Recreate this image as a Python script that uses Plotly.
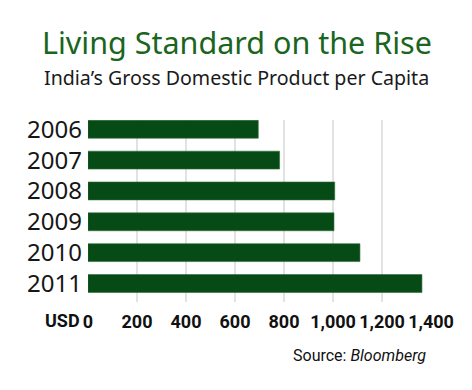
import plotly.graph_objects as go

years = ["2006", "2007", "2008", "2009", "2010", "2011"]
gdp_per_capita = [695, 782, 1007, 1004, 1110, 1363]
x_tick_vals = [0, 200, 400, 600, 800, 1000, 1200, 1400]
x_tick_text = ["0", "200", "400", "600", "800", "1,000", "1,200", "1,400"]

W, H = 472, 390
L, R, T, B = 88, 41, 120, 88  # plot area 88..431 x, 120..302 y
pw, ph = W - L - R, H - T - B

def px_x(x):
    return (x - L) / pw

def px_y(y):
    return (H - B - y) / ph

fig = go.Figure(go.Bar(
    x=gdp_per_capita, y=years, orientation="h",
    marker=dict(color="#064b16", line=dict(color="#2d6b35", width=0.6)),
    width=0.58,
))

cond = "Roboto, DejaVu Sans Condensed, sans-serif"

fig.update_layout(
    width=W, height=H,
    margin=dict(l=L, r=R, t=T, b=B, pad=0, autoexpand=False),
    paper_bgcolor="white", plot_bgcolor="white",
    showlegend=False,
    xaxis=dict(
        range=[0, 1400], tickvals=x_tick_vals, ticktext=x_tick_text,
        tickangle=0, showgrid=True, gridcolor="#e2e2e2", gridwidth=1.5,
        zeroline=False, showline=False, ticks="", automargin=False,
        tickfont=dict(family=cond, size=18, color="#111111", weight="bold"),
        ticklabelstandoff=7, fixedrange=True,
    ),
    yaxis=dict(
        type="category", range=[5.6, -0.3], showgrid=False, zeroline=False,
        showline=False, ticks="", automargin=False,
        tickfont=dict(family="Noto Sans, sans-serif", size=24, color="#161616"),
        ticklabelstandoff=5, fixedrange=True,
    ),
    annotations=[
        dict(text="Living Standard on the Rise", xref="paper", yref="paper",
             x=px_x(236.5), y=px_y(42), xanchor="center", yanchor="middle",
             showarrow=False,
             font=dict(family="Noto Sans, sans-serif", size=30.5, color="#1a6520")),
        dict(text="India\u2019s Gross Domestic Product per Capita", xref="paper", yref="paper",
             x=px_x(236.5), y=px_y(78), xanchor="center", yanchor="middle",
             showarrow=False,
             font=dict(family="Noto Sans, sans-serif", size=19.6, color="#1a1a1a")),
        dict(text="USD", xref="paper", yref="paper",
             x=px_x(82), y=px_y(320), xanchor="right", yanchor="middle",
             showarrow=False,
             font=dict(family=cond, size=18, color="#111111", weight="bold")),
        dict(text="Source: <i>Bloomberg</i>", xref="paper", yref="paper",
             x=px_x(428), y=px_y(355), xanchor="right", yanchor="middle",
             showarrow=False,
             font=dict(family=cond, size=16, color="#111111")),
    ],
)

fig.write_html("out.html", config={"displayModeBar": False},
               post_script="document.body.style.margin='0';")
